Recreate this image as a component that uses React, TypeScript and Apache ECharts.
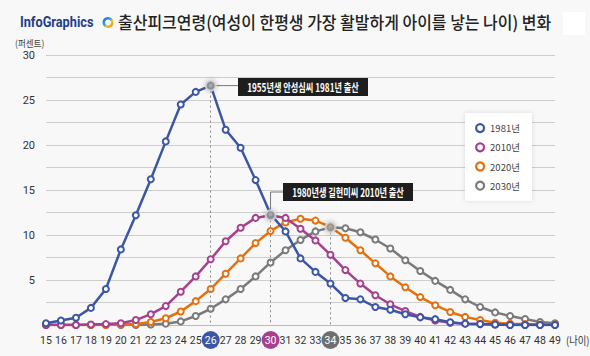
import React, { useEffect, useRef } from "react";
import * as echarts from "echarts";

const ages = Array.from({ length: 35 }, (_, i) => String(15 + i));
const s1981 = [0.2, 0.5, 0.8, 1.9, 4.0, 8.4, 12.2, 16.2, 20.4, 24.5, 25.9, 26.6, 21.7, 19.7, 16.1, 12.3, 10.4, 7.4, 5.9, 4.6, 3.0, 2.85, 2.0, 1.7, 1.2, 0.85, 0.65, 0.3, 0.15, 0.1, 0.05, 0, 0, 0, 0];
const s2010 = [0, 0, 0, 0.05, 0.1, 0.2, 0.55, 1.2, 2.1, 3.7, 5.4, 7.3, 9.3, 10.8, 11.9, 12.2, 11.9, 10.7, 9.4, 7.8, 6.1, 4.6, 3.3, 2.3, 1.55, 0.9, 0.5, 0.25, 0.15, 0.1, 0.05, 0, 0, 0, 0];
const s2020 = [0, 0, 0, 0, 0, 0.05, 0.1, 0.33, 0.75, 1.5, 2.65, 4.0, 5.7, 7.4, 9.1, 10.45, 11.4, 11.8, 11.6, 10.9, 9.7, 8.3, 6.85, 5.4, 4.2, 3.1, 2.2, 1.45, 0.9, 0.55, 0.25, 0.15, 0.1, 0.05, 0.05];
const s2030 = [0, 0, 0, 0, 0, 0, 0, 0.05, 0.15, 0.4, 1.0, 1.8, 2.85, 4.0, 5.4, 6.95, 8.3, 9.45, 10.4, 10.85, 10.75, 10.3, 9.5, 8.5, 7.2, 6.0, 4.9, 3.9, 2.85, 2.0, 1.4, 1.0, 0.67, 0.33, 0.2];
const seriesNames = ["1981년", "2010년", "2020년", "2030년"];
const colors = ["#3b56a5", "#a6408e", "#e5700f", "#7a7a7a"];
const highlightAges = ["26", "30", "34"];
const highlightSeries = [0, 1, 3];
const notes = ["1955년생 안성심씨 1981년 출산", "1980년생 길현미씨 2010년 출산"];
const yTicks = [5, 10, 15, 20, 25, 30];
const title = "출산피크연령(여성이 한평생 가장 활발하게 아이를 낳는 나이) 변화";

export default function App() {
  const ref = useRef<HTMLDivElement>(null);
  useEffect(() => {
    document.body.style.margin = "0";
    const chart = echarts.init(ref.current!, null, { renderer: "svg" });
    const all = [s1981, s2010, s2020, s2030];
    const hlData = highlightAges.map((a, i) => [a, all[highlightSeries[i]][ages.indexOf(a)]]);
    const richKeys = ["b", "p", "g"];
    const richColors = [colors[0], colors[1], "#6f6f6f"];
    const rich: any = {
      n: { color: "#333", fontSize: 10.5, height: 18, lineHeight: 18, fontFamily: "Roboto" },
    };
    richKeys.forEach((k, i) => {
      rich[k] = {
        backgroundColor: richColors[i],
        color: "#fff",
        borderRadius: 9,
        width: 18,
        height: 18,
        lineHeight: 18,
        align: "center",
        fontSize: 10.5,
        fontFamily: "Roboto",
      };
    });
    const font = "Roboto, 'Noto Sans CJK KR', sans-serif";
    const kr = "'Noto Sans CJK KR', sans-serif";
    chart.setOption({
      animation: false,
      backgroundColor: "#f8f8f8",
      textStyle: { fontFamily: font },
      grid: { left: 46, right: 35, top: 55, bottom: 31 },
      legend: {
        orient: "vertical",
        left: 465,
        top: 113,
        backgroundColor: "#fff",
        padding: [10, 12, 10, 10],
        itemGap: 9,
        itemWidth: 8,
        itemHeight: 8,
        shadowBlur: 5,
        shadowColor: "rgba(0,0,0,0.12)",
        textStyle: { fontSize: 9.5, color: "#444", fontFamily: kr, padding: [0, 0, 0, 1] },
        data: seriesNames.map((n, i) => ({
          name: n,
          icon: "circle",
          itemStyle: { color: "#fff", borderColor: colors[i], borderWidth: 2.2 },
        })),
      },
      xAxis: {
        type: "category",
        data: ages,
        boundaryGap: false,
        axisLine: { lineStyle: { color: "#bbb" } },
        axisTick: { show: false },
        axisLabel: {
          interval: 0,
          color: "#333",
          fontSize: 10.5,
          margin: 6,
          formatter: (v: string) => {
            const i = highlightAges.indexOf(v);
            return i >= 0 ? `{${richKeys[i]}|${v}}` : `{n|${v}}`;
          },
          rich,
        },
      },
      yAxis: {
        type: "value",
        min: 0,
        max: 30,
        interval: 2.5,
        axisLine: { show: false },
        axisTick: { show: false },
        splitLine: { lineStyle: { color: "#cdcdcd" } },
        axisLabel: {
          color: "#333",
          fontSize: 11,
          margin: 11,
          formatter: (v: number) => (yTicks.includes(v) ? String(v) : ""),
        },
      },
      series: [
        ...seriesNames.map((n, i) => ({
          name: n,
          type: "line",
          data: all[i],
          symbol: "emptyCircle",
          symbolSize: 6,
          z: 3 + (3 - i),
          lineStyle: { color: colors[i], width: 2.5 },
          itemStyle: { color: colors[i], borderWidth: 1.6 },
        })),
        {
          type: "scatter",
          data: hlData,
          symbolSize: 10,
          z: 10,
          itemStyle: {
            color: "#9c9c9c",
            borderColor: "#d8d8d8",
            borderWidth: 2,
            shadowBlur: 4,
            shadowColor: "rgba(0,0,0,0.3)",
          },
          markLine: {
            silent: true,
            symbol: "none",
            label: { show: false },
            lineStyle: { color: "#888", type: [2, 3], width: 1 },
            data: hlData.map((d) => [{ coord: [d[0], d[1]] }, { coord: [d[0], 0] }]),
          },
        },
      ],
    });

    const p1 = chart.convertToPixel({ gridIndex: 0 }, hlData[0] as any) as number[];
    const p2 = chart.convertToPixel({ gridIndex: 0 }, hlData[1] as any) as number[];
    const box1 = { x: 238, y: 78, w: 130, h: 18 };
    const box2 = { x: 283, y: 183, w: 130, h: 18 };
    const noteStyle = (t: string) => ({
      text: t,
      fontSize: 11.5,
      fontWeight: "bold",
      fill: "#fff",
      align: "center",
      verticalAlign: "middle",
      fontFamily: kr,
    });
    chart.setOption({
      graphic: [
        {
          type: "text",
          x: 20,
          y: 22,
          scaleX: 0.88,
          style: { text: "InfoGraphics", fontSize: 14.5, fontWeight: "bold", fill: "#1e3d8c", fontFamily: "Roboto, sans-serif", verticalAlign: "middle" },
        },
        {
          type: "ring",
          shape: { cx: 108, cy: 22.5, r: 5.5, r0: 3 },
          style: {
            fill: new echarts.graphic.LinearGradient(0, 0, 1, 1, [
              { offset: 0, color: "#1f5fd6" },
              { offset: 0.45, color: "#3aa0e8" },
              { offset: 0.6, color: "#f7c21d" },
              { offset: 1, color: "#f07a1a" },
            ]),
          },
        },
        {
          type: "text",
          x: 118,
          y: 22,
          scaleX: 0.94,
          style: { text: title, fontSize: 17, fill: "#222", fontWeight: 500, fontFamily: kr, verticalAlign: "middle" },
        },
        { type: "rect", shape: { x: 563, y: 12, width: 22, height: 23 }, style: { fill: "#fff" } },
        {
          type: "text",
          x: 15,
          y: 43,
          scaleX: 0.9,
          style: { text: "(퍼센트)", fontSize: 9.5, fill: "#444", fontFamily: kr, verticalAlign: "middle" },
        },
        {
          type: "text",
          x: 566,
          y: 340,
          scaleX: 0.85,
          style: { text: "(나이)", fontSize: 11, fill: "#333", fontFamily: kr, verticalAlign: "middle" },
        },
        {
          type: "line",
          z: 5,
          shape: { x1: p1[0], y1: p1[1], x2: box1.x, y2: p1[1] },
          style: { stroke: "#777", lineWidth: 1 },
        },
        {
          type: "polyline",
          z: 5,
          shape: { points: [[p2[0], p2[1]], [p2[0], box2.y + box2.h / 2], [box2.x, box2.y + box2.h / 2]] },
          style: { stroke: "#777", lineWidth: 1, fill: null },
        },
        { type: "rect", z: 6, shape: { x: box1.x, y: box1.y, width: box1.w, height: box1.h }, style: { fill: "#1e1e1e" } },
        { type: "text", z: 7, x: box1.x + box1.w / 2, y: box1.y + box1.h / 2, scaleX: 0.71, style: noteStyle(notes[0]) },
        { type: "rect", z: 6, shape: { x: box2.x, y: box2.y, width: box2.w, height: box2.h }, style: { fill: "#1e1e1e" } },
        { type: "text", z: 7, x: box2.x + box2.w / 2, y: box2.y + box2.h / 2, scaleX: 0.71, style: noteStyle(notes[1]) },
      ],
    });
    return () => chart.dispose();
  }, []);
  return <div ref={ref} style={{ position: "absolute", left: 0, top: 0, width: 590, height: 356 }} />;
}
